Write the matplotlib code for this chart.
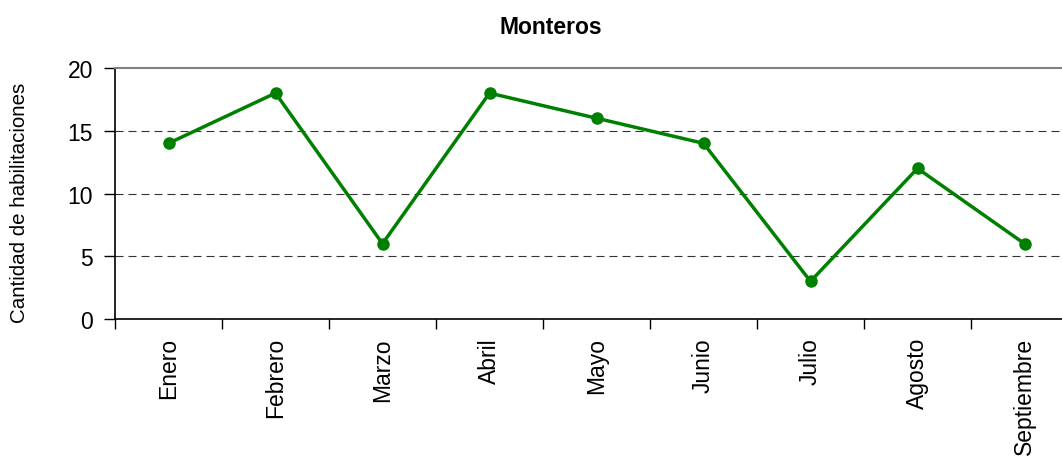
import matplotlib
matplotlib.use('Agg')
import matplotlib.pyplot as plt

plt.rcParams['font.family'] = ['Liberation Sans', 'DejaVu Sans']

meses = ['Enero', 'Febrero', 'Marzo', 'Abril', 'Mayo', 'Junio', 'Julio', 'Agosto', 'Septiembre']
habilitaciones = [14, 18, 6, 18, 16, 14, 3, 12, 6]
y_ticks = [0, 5, 10, 15, 20]

W, H = 1062, 464
fig = plt.figure(figsize=(W / 100, H / 100), dpi=100)
# plot area: left axis at x=115, y from 69 (20) to 320 (0); extends past right edge
ax = fig.add_axes([115 / W, 1 - 320 / H, 963 / W, 251 / H])

x = list(range(len(meses)))
ax.plot(x, habilitaciones, color='#008000', linewidth=2.5, marker='o', markersize=8, zorder=3)

ax.set_xlim(-0.5, len(meses) - 0.5)
ax.set_ylim(0, 20)
ax.set_yticks(y_ticks)
ax.set_yticklabels([str(v) for v in y_ticks], fontsize=16.5)

# category boundaries get the ticks, labels sit at the centres
ax.set_xticks([i - 0.5 for i in range(len(meses) + 1)])
ax.set_xticklabels([])
ax.set_xticks(x, minor=True)
ax.set_xticklabels(meses, minor=True, rotation=90, fontsize=16.5)
ax.tick_params(axis='x', which='minor', length=0, pad=13)
ax.tick_params(axis='x', which='major', length=7, width=1, color='black')
ax.tick_params(axis='y', length=8, width=1, pad=8)

for v in [5, 10, 15]:
    ax.axhline(v, color='#333333', linewidth=0.8, linestyle=(0, (7.2, 4.5)), zorder=1)

ax.spines['right'].set_visible(False)
ax.spines['top'].set_color('#808080')
ax.spines['top'].set_linewidth(1.5)
ax.spines['left'].set_linewidth(1.2)
ax.spines['bottom'].set_linewidth(1.2)

fig.text(551 / W, 1 - 27 / H, 'Monteros', ha='center', va='center', fontsize=16.5, fontweight='bold')
fig.text(20 / W, 1 - 203 / H, 'Cantidad de habilitaciones', rotation=90, ha='center', va='center', fontsize=14.8)

fig.savefig('out.png', dpi=100)
plt.close()
